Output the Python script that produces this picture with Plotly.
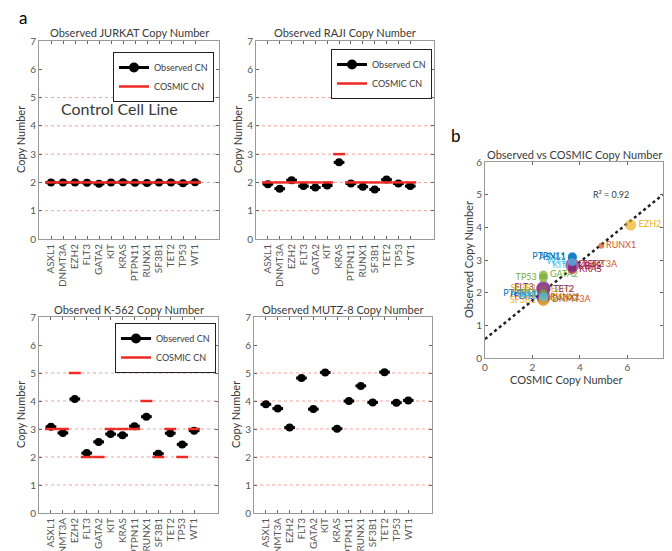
import plotly.graph_objects as go

# ---------------- data ----------------
genes = ["ASXL1", "DNMT3A", "EZH2", "FLT3", "GATA2", "KIT", "KRAS",
         "PTPN11", "RUNX1", "SF3B1", "TET2", "TP53", "WT1"]

jurkat_obs = [2.00, 2.00, 2.00, 1.99, 1.95, 2.00, 2.01, 1.99, 1.98, 2.00, 2.00, 1.97, 2.01]
jurkat_cosmic = [2, 2, 2, 2, 2, 2, 2, 2, 2, 2, 2, 2, 2]

raji_obs = [1.94, 1.78, 2.08, 1.87, 1.82, 1.89, 2.71, 1.96, 1.85, 1.75, 2.10, 1.96, 1.87]
raji_cosmic = [2, 2, 2, 2, 2, 2, 3, 2, 2, 2, 2, 2, 2]

k562_obs = [3.08, 2.86, 4.07, 2.14, 2.54, 2.82, 2.78, 3.10, 3.44, 2.12, 2.85, 2.45, 2.94]
k562_cosmic = [3, 3, 5, 2, 2, 3, 3, 3, 4, 2, 3, 2, 3]

mutz8_obs = [3.88, 3.73, 3.05, 4.82, 3.71, 5.02, 3.01, 4.00, 4.54, 3.95, 5.03, 3.94, 4.02]

grid_levels = [1, 2, 3, 4, 5]
y_ticks_a = [0, 1, 2, 3, 4, 5, 6, 7]

# panel b (scaled COSMIC copy number on x, observed on y)
b_raji_x = [2.46, 2.46, 2.46, 2.46, 2.46, 2.46, 3.68, 2.46, 2.46, 2.46, 2.46, 2.46, 2.46]
b_k562_x = [3.68, 3.68, 6.14, 2.46, 2.46, 3.68, 3.68, 3.68, 4.90, 2.46, 3.68, 2.46, 3.68]
fit_intercept = 0.58
fit_slope = 0.59
fit_x = [0, 7.5]
r_squared = 0.92
b_x_ticks = [0, 2, 4, 6]
b_y_ticks = [0, 1, 2, 3, 4, 5, 6]

# ---------------- styles ----------------
FONT = "Lato"
TXT = "#3a3a3a"
TICK = "#555555"
AXC = "#9a9a9a"
matlab = ["#0072BD", "#D95319", "#EDB120", "#7E2F8E", "#77AC30", "#4DBEEE", "#A2142F"]
gene_color = [matlab[i % 7] for i in range(len(genes))]
label_side = ["middle left", "middle right", "middle right", "middle left", "middle right",
              "middle left", "middle right", "middle left", "middle right", "middle left",
              "middle right", "middle left", "middle left"]
size_raji = [9, 12, 10, 14, 9, 9, 9, 9, 9, 10, 14, 9, 9]
size_k562 = [9, 8, 11, 14, 9, 8, 8, 9, 6, 9, 14, 9, 8]

W, H = 672, 551
def px_x(p):
    return p / W
def px_y(p):
    return 1 - p / H

panels = [
    # name, axis suffix, (left,right,top,bottom px), obs, cosmic, legend
    ("JURKAT", "", (39, 219, 41, 239), jurkat_obs, jurkat_cosmic, "legend"),
    ("RAJI", "2", (256, 434, 41, 239), raji_obs, raji_cosmic, "legend2"),
    ("K-562", "3", (39, 218, 317, 513), k562_obs, k562_cosmic, "legend3"),
    ("MUTZ-8", "4", (254, 432, 317, 513), mutz8_obs, None, None),
]

fig = go.Figure()
cat_idx = list(range(len(genes)))
annotations = []
shapes = []

def ann(text, x, y, size=11, color=TXT, angle=0, yanchor="middle", xref="paper", yref="paper"):
    return dict(text=text, xref=xref, yref=yref, x=x, y=y, xanchor="center", yanchor=yanchor,
                textangle=angle, showarrow=False, font=dict(size=size, color=color, family=FONT))

for name, sfx, (l, r, t, b), obs, cosmic, leg in panels:
    xa = "x" + sfx
    ya = "y" + sfx
    # gridlines (dotted red)
    for g in grid_levels:
        shapes.append(dict(type="line", xref=xa + " domain", yref=ya, x0=0, x1=1, y0=g, y1=g,
                           line=dict(color="#f3a097", width=1, dash="dot"), layer="below"))
    # observed markers with horizontal bar
    fig.add_trace(go.Scatter(
        x=cat_idx, y=obs, mode="markers", xaxis=xa, yaxis=ya, showlegend=False,
        marker=dict(color="black", size=8),
        error_x=dict(type="constant", value=0.45, thickness=3, width=0, color="black"),
        hoverinfo="skip"))
    if cosmic is not None:
        sx, sy = [], []
        for i, v in zip(cat_idx, cosmic):
            sx += [i - 0.5, i + 0.5, None]
            sy += [v, v, None]
        fig.add_trace(go.Scatter(
            x=[None], y=[None], mode="lines+markers", xaxis=xa, yaxis=ya,
            line=dict(color="black", width=3), marker=dict(color="black", size=10),
            name="Observed CN", legend=leg, showlegend=True))
        fig.add_trace(go.Scatter(
            x=sx, y=sy, mode="lines", xaxis=xa, yaxis=ya,
            line=dict(color="#ee2a24", width=2.5), name="COSMIC CN",
            legend=leg, showlegend=True, hoverinfo="skip"))
    annotations.append(ann(f"Observed {name} Copy Number", px_x((l + r) / 2), px_y(t - 8)))
    annotations.append(ann("Copy Number", px_x(l - 19), px_y((t + b) / 2), angle=-90))
    axis_common = dict(showline=True, linecolor=AXC, linewidth=1, mirror="allticks",
                       ticks="inside", ticklen=3, tickcolor="#666", showgrid=False,
                       zeroline=False, tickfont=dict(size=10, color=TICK, family=FONT))
    fig.layout["xaxis" + sfx] = dict(
        domain=[px_x(l), px_x(r)], anchor=ya, range=[-1, 14],
        tickmode="array", tickvals=cat_idx, ticktext=genes, tickangle=-90,
        automargin=False, **axis_common)
    fig.layout["yaxis" + sfx] = dict(
        domain=[px_y(b), px_y(t)], anchor=xa, range=[0, 7],
        tickmode="array", tickvals=y_ticks_a, automargin=False, **axis_common)

# ---------------- panel b ----------------
bl, br, bt, bb = 485, 663, 162, 358
fit_y = [fit_intercept + fit_slope * v for v in fit_x]
fig.add_trace(go.Scatter(x=fit_x, y=fit_y, mode="lines", xaxis="x5", yaxis="y5",
                         line=dict(color="#222", width=2.5, dash="dot"), showlegend=False,
                         hoverinfo="skip"))
for i, g in enumerate(genes):
    fig.add_trace(go.Scatter(
        x=[b_raji_x[i], b_k562_x[i]], y=[raji_obs[i], k562_obs[i]],
        mode="markers+text", xaxis="x5", yaxis="y5", showlegend=False,
        text=[g, g], textposition=label_side[i], cliponaxis=False,
        textfont=dict(size=9, color=gene_color[i], family=FONT),
        marker=dict(color=gene_color[i], size=[size_raji[i], size_k562[i]], line=dict(width=0)),
        hoverinfo="skip"))

axis_b = dict(showline=True, linecolor=AXC, linewidth=1, mirror="allticks",
              ticks="inside", ticklen=3, tickcolor="#666", showgrid=False,
              zeroline=False, automargin=False, tickfont=dict(size=10, color=TICK, family=FONT))
fig.layout["xaxis5"] = dict(domain=[px_x(bl), px_x(br)], anchor="y5", range=[0, 7.5],
                            tickmode="array", tickvals=b_x_ticks, **axis_b)
fig.layout["yaxis5"] = dict(domain=[px_y(bb), px_y(bt)], anchor="x5", range=[0, 6],
                            tickmode="array", tickvals=b_y_ticks, **axis_b)

annotations += [
    ann("Observed vs COSMIC Copy Number", px_x((bl + br) / 2), px_y(bt - 8)),
    ann("COSMIC Copy Number", px_x(566), px_y(379)),
    ann("Observed Copy Number", px_x(468), px_y((bt + bb) / 2), angle=-90),
    ann(f"R² = {r_squared:.2f}", 5.3, 5.0, size=9, xref="x5", yref="y5"),
    ann("Control Cell Line", px_x(119), px_y(108), size=16),
    ann("a", px_x(23), px_y(18), size=17, color="black"),
    ann("b", px_x(456), px_y(135), size=17, color="black"),
]

legend_style = dict(bordercolor="#222", borderwidth=1, bgcolor="white",
                    font=dict(size=9, color=TXT, family=FONT), itemwidth=30,
                    tracegroupgap=0, xanchor="left", yanchor="top",
                    traceorder="normal")

fig.update_layout(
    width=W, height=H, margin=dict(l=0, r=0, t=0, b=0),
    paper_bgcolor="white", plot_bgcolor="white",
    font=dict(family=FONT, color=TXT),
    annotations=annotations, shapes=shapes,
    legend=dict(x=px_x(113), y=px_y(52), **legend_style),
    legend2=dict(x=px_x(331), y=px_y(49), **legend_style),
    legend3=dict(x=px_x(115), y=px_y(323), **legend_style),
)

fig.write_html("out.html", config={"displayModeBar": False},
               post_script="document.body.style.margin='0px';")
